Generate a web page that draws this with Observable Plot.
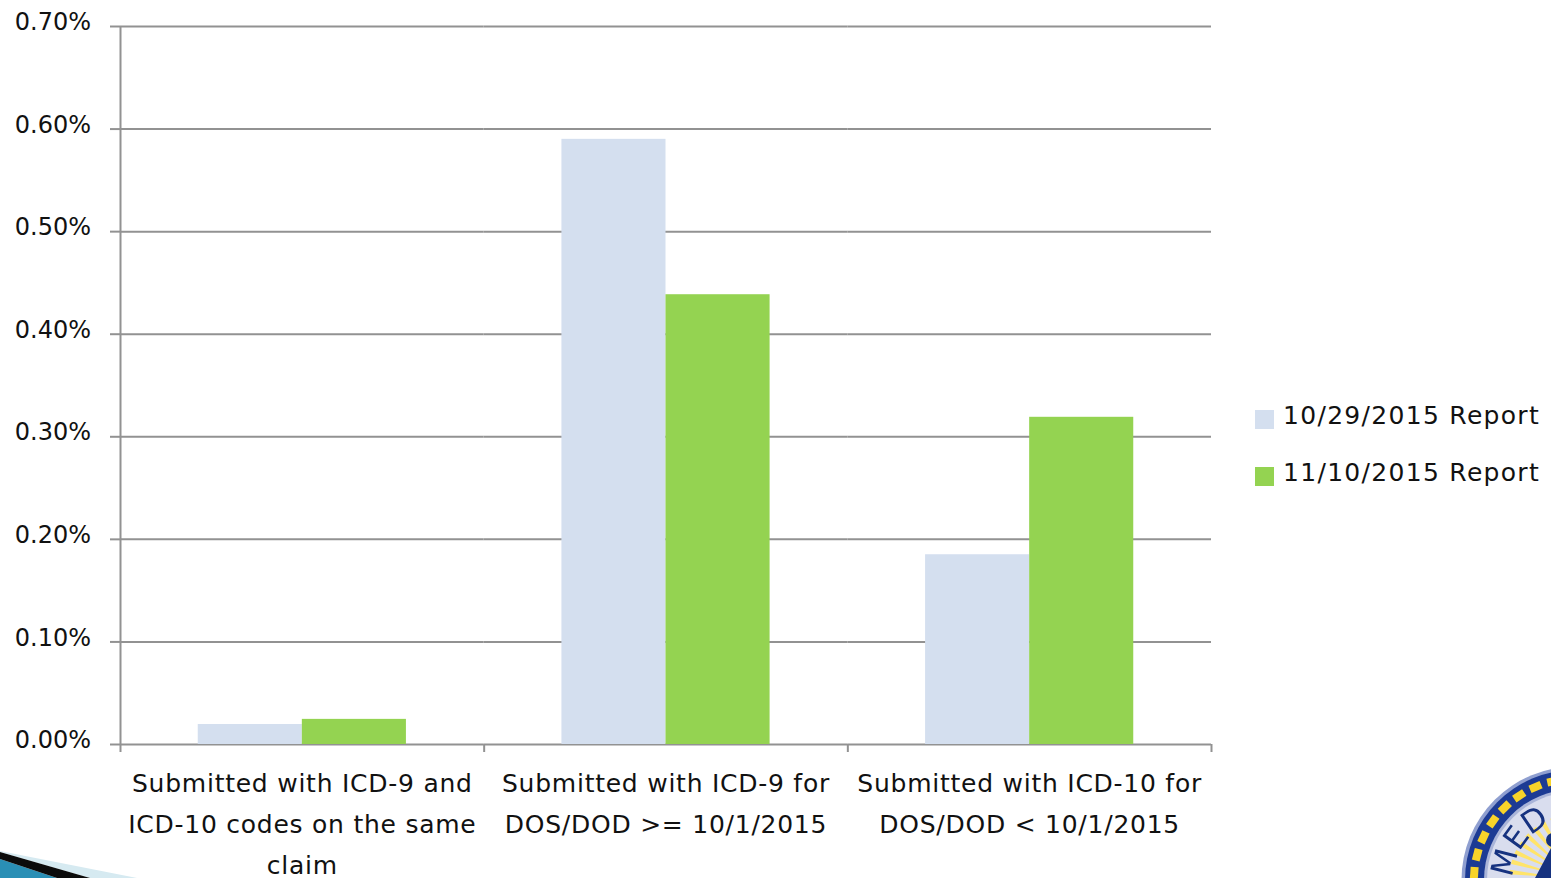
<!DOCTYPE html>
<html><head><meta charset="utf-8">
<script src="https://cdn.jsdelivr.net/npm/d3@7"></script>
<script src="https://cdn.jsdelivr.net/npm/@observablehq/plot@0.6"></script>
<style>
html,body{margin:0;padding:0;background:#fff;overflow:hidden}
#wrap{position:relative;width:1551px;height:878px;overflow:hidden}
#wrap text,.leg{font-family:"DejaVu Sans",sans-serif;color:#111}
g[aria-label="fx-axis tick label"] text{letter-spacing:.75px}
.leg{position:absolute;left:1255px;display:flex;align-items:center;font-size:25px;letter-spacing:1.3px;white-space:nowrap;line-height:30px}
.leg i{display:block;width:19px;height:19px;margin-right:9px;position:relative;top:3px}
#deco{position:absolute;left:0;top:0}
</style></head><body>
<div id="wrap"></div>
<script>
const categories = ["Submitted with ICD-9 and ICD-10 codes on the same claim","Submitted with ICD-9 for DOS/DOD >= 10/1/2015","Submitted with ICD-10 for DOS/DOD < 10/1/2015"];
const categoryLabels = ["Submitted with ICD-9 and\nICD-10 codes on the same\nclaim","Submitted with ICD-9 for\nDOS/DOD >= 10/1/2015","Submitted with ICD-10 for\nDOS/DOD < 10/1/2015"];
const seriesNames = ["10/29/2015 Report","11/10/2015 Report"];
const seriesColors = ["#d4dfef","#94d351"];
const report1029 = [0.0195,0.59,0.185];
const report1110 = [0.0245,0.4385,0.319];
const yTicks = [0,0.1,0.2,0.3,0.4,0.5,0.6,0.7];
const rows = categories.flatMap((c,i)=>[
  {category:c,series:seriesNames[0],value:report1029[i]},
  {category:c,series:seriesNames[1],value:report1110[i]}]);
const labelOf = new Map(categories.map((c,i)=>[c,categoryLabels[i]]));
const axisColor = "#929292";
const band = (1211-120)/3;
const tickDrop = -0.0078;

const chart = Plot.plot({
  width:1551,height:878,
  marginLeft:120,marginRight:340,marginTop:26,marginBottom:134,
  style:{background:"#fff",fontFamily:"DejaVu Sans",overflow:"hidden"},
  fx:{domain:categories,padding:0,label:null,round:false},
  x:{domain:seriesNames,paddingInner:0,paddingOuter:0.747,axis:null,label:null,round:false},
  y:{domain:[0,0.7],label:null},
  color:{domain:seriesNames,range:seriesColors},
  marks:[
    Plot.ruleY(yTicks,{stroke:axisColor,strokeWidth:2}),
    Plot.barY(rows,{fx:"category",x:"series",y:"value",fill:"series"}),
    Plot.ruleX(categories,{x:null,fx:d=>d,y1:0,y2:tickDrop,dx:-band/2,stroke:axisColor,strokeWidth:2}),
    Plot.ruleX(categories.slice(0,1),{x:null,fx:d=>d,y1:0.7,y2:0,dx:-band/2,stroke:axisColor,strokeWidth:2}),
    Plot.ruleX(categories.slice(2),{x:null,fx:d=>d,y1:0,y2:tickDrop,dx:band/2,stroke:axisColor,strokeWidth:2}),
    Plot.axisY({ticks:yTicks,tickSize:10,tickFormat:()=>"",stroke:axisColor,strokeWidth:2,label:null}),
    Plot.axisY({ticks:yTicks,tickSize:0,tickPadding:29.5,fontSize:24,tickFormat:d=>d.toFixed(2)+"%",label:null,dy:-4,fill:"#111"}),
    Plot.axisFx({anchor:"bottom",tickSize:0,tickPadding:18.5,fontSize:25,tickFormat:d=>labelOf.get(d),lineHeight:1.64,lineWidth:Infinity,label:null,fill:"#111"})
  ]
});
const wrap = document.getElementById("wrap");
wrap.appendChild(chart);

seriesNames.forEach((n,i)=>{
  const d=document.createElement("div");d.className="leg";d.style.top=(401+57*i)+"px";
  const sw=document.createElement("i");sw.style.background=seriesColors[i];
  const t=document.createElement("span");t.textContent=n;
  d.append(sw,t);wrap.appendChild(d);
});

// corner decoration of the slide: wedge bottom left, seal bottom right
const ns="http://www.w3.org/2000/svg";
const deco=document.createElementNS(ns,"svg");
deco.setAttribute("id","deco");deco.setAttribute("width",1551);deco.setAttribute("height",878);
const rays=d3.range(-90,-180,-9).map(a=>{
  const r=Math.PI*a/180,r2=Math.PI*(a-4)/180,cx=1575,cy=880;
  return `<polygon points="${cx+18*Math.cos(r)},${cy+18*Math.sin(r)} ${cx+66*Math.cos(r)},${cy+66*Math.sin(r)} ${cx+66*Math.cos(r2)},${cy+66*Math.sin(r2)}" fill="#ffe46a"/>`;
}).join("");
const gems=d3.range(-92,-182,-10.5).map(a=>{
  const r=Math.PI*a/180,cx=1575,cy=880,x=cx+101*Math.cos(r),y=cy+101*Math.sin(r);
  return `<rect x="${x-6}" y="${y-4}" width="12" height="8" transform="rotate(${a+90} ${x} ${y})" fill="#f8d42a"/>`;
}).join("");
deco.innerHTML=`
<defs><filter id="soft"><feGaussianBlur stdDeviation="0.7"/></filter></defs>
<polygon points="0,851 137,878 90,878 0,852" fill="#d6eaf1"/>
<polygon points="0,859 57,878 0,878" fill="#2a8fb5"/>
<polygon points="0,852 90,878 57,878 0,859" fill="#0b0b0b"/>
<g filter="url(#soft)">
<circle cx="1575" cy="880" r="113.5" fill="#8f9fd0"/>
<circle cx="1575" cy="880" r="110" fill="#1c3a94"/>
${gems}
<circle cx="1575" cy="880" r="91" fill="#a9b4d8"/>
<circle cx="1575" cy="880" r="88" fill="#d9ddee"/>
${rays}
<path id="sealArc" d="M1513,880 A62,62 0 0 1 1575,818" fill="none"/>
<text font-family="Liberation Serif" font-size="31" fill="#14307f"><textPath href="#sealArc" startOffset="2">MED</textPath></text>
<circle cx="1553" cy="840" r="7" fill="#14307f"/>
<path d="M1551,848 L1535,878 L1551,878 Z" fill="#14307f"/>
</g>`;
wrap.appendChild(deco);
</script>
</body></html>
